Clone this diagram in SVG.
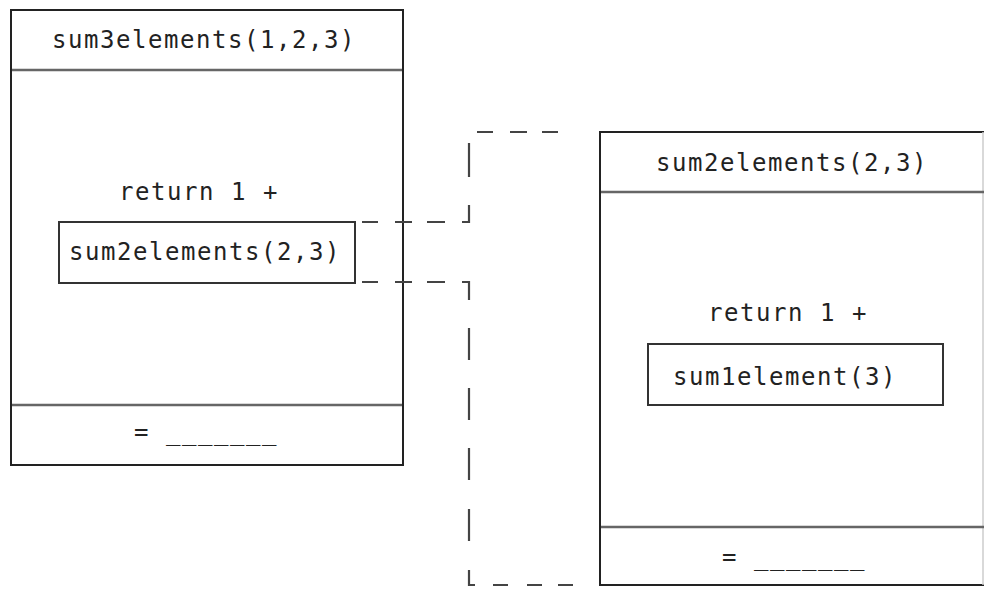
<svg xmlns="http://www.w3.org/2000/svg" width="984" height="589" viewBox="0 0 984 589">
  <style>
    .frame { fill: none; stroke: #222; stroke-width: 2; }
    .div { stroke: #666; stroke-width: 2.5; fill: none; }
    .inner { fill: none; stroke: #333; stroke-width: 2; }
    .dash { fill: none; stroke: #444; stroke-width: 2.2; }
    .t { font-family: "DejaVu Sans Mono", "Liberation Mono", monospace; font-size: 24px; letter-spacing: 1.55px; fill: #222; }
  </style>
  <rect width="984" height="589" fill="#fff"/>
  <g id="frame-sum3elements">
    <rect class="frame" x="11" y="10" width="392" height="455"/>
    <line class="div" x1="12" y1="70" x2="402" y2="70"/>
    <line class="div" x1="12" y1="405" x2="402" y2="405"/>
    <text class="t" x="52" y="48">sum3elements(1,2,3)</text>
    <text class="t" x="119" y="200">return 1 +</text>
    <text class="t" x="134" y="440">= _______</text>
  </g>
  <g id="call-sum2elements">
    <rect class="inner" x="59" y="222" width="296" height="61"/>
    <text class="t" x="69" y="260">sum2elements(2,3)</text>
  </g>
  <g id="frame-sum2elements">
    <path class="frame" d="M984,132 H600 V585 H984"/>
    <line x1="983" y1="132" x2="983" y2="585" stroke="#ccc" stroke-width="1.5"/>
    <line class="div" x1="601" y1="192" x2="984" y2="192"/>
    <line class="div" x1="601" y1="527" x2="984" y2="527"/>
    <text class="t" x="656" y="171">sum2elements(2,3)</text>
    <text class="t" x="708" y="321">return 1 +</text>
    <text class="t" x="722" y="565">= _______</text>
  </g>
  <g id="call-sum1element">
    <rect class="inner" x="648" y="344" width="295" height="61"/>
    <text class="t" x="673" y="385">sum1element(3)</text>
  </g>
  <g id="connectors">
    <path class="dash" d="M362,222 H378 M395,222 H412 M427,222 H445 M462,222 H469 V205 M469,177 V143 M477,132 H493 M510,132 H527 M542,132 H558"/>
    <path class="dash" d="M362,282 H378 M395,282 H412 M427,282 H445 M462,282 H469 V300 M469,328 V360 M469,388 V420 M469,448 V480 M469,509 V541 M469,570 V585 H475 M493,585 H508 M527,585 H542 M558,585 H573"/>
  </g>
</svg>
